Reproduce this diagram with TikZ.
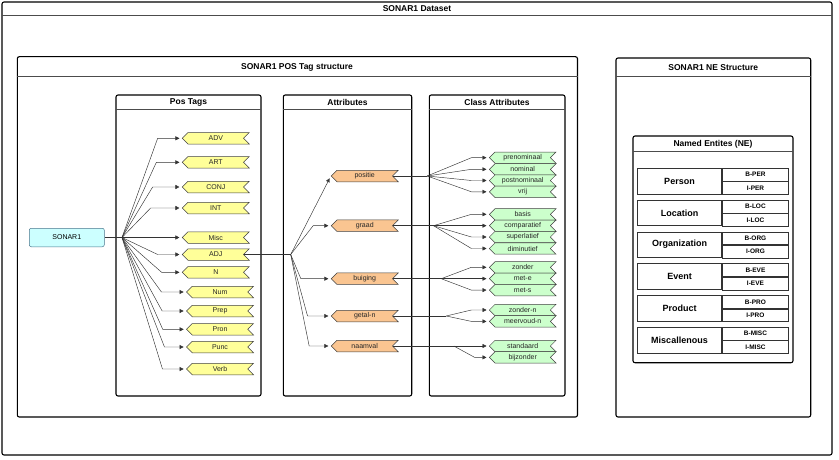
\documentclass[tikz,border=0pt]{standalone}
\usepackage{fontspec}
\setmainfont{Liberation Sans}
\definecolor{tagyellow}{RGB}{255,255,153}
\definecolor{attrorange}{RGB}{250,197,145}
\definecolor{classgreen}{RGB}{204,255,204}
\definecolor{rootcyan}{RGB}{204,255,255}
\usetikzlibrary{calc}
\usetikzlibrary{shapes.symbols,arrows.meta}
\tikzset{
  panel/.style={draw=black, line width=1.1pt, rounded corners=2pt},
  titlebar/.style={draw=black!70, line width=0.5pt},
  paneltitle/.style={font=\fontsize{8.5}{10}\selectfont\bfseries},
  tagshape/.style={signal, signal to=west, signal from=east, signal pointer angle=90,
    draw=black!75, line width=0.5pt, minimum width=67pt, minimum height=11.5pt,
    inner sep=0pt, font=\fontsize{7}{8}\selectfont, text=black!85},
  postag/.style={tagshape, fill=tagyellow},
  attrtag/.style={tagshape, fill=attrorange},
  classtag/.style={tagshape, fill=classgreen, minimum width=66.7pt, minimum height=11.4pt},
  link/.style={draw=black!80, line width=0.45pt},
  tagarrow/.style={link, -{Triangle[length=4pt,width=4pt]}, shorten >=2.5pt},
  necell/.style={draw=black!80, line width=0.6pt, inner sep=0pt},
}

\begin{document}
\begin{tikzpicture}[x=1pt,y=-1pt]
  \useasboundingbox (0,0) rectangle (839,460);

  % containers
  \draw[panel] (2,2) rectangle (832,455);
  \draw[titlebar] (2,15) -- (832,15);
  \node[paneltitle] (datasettitle) at (417,8.5) {SONAR1 Dataset};

  \draw[panel] (17.3,56.7) rectangle (577.5,417);
  \draw[titlebar] (17.3,76.7) -- (577.5,76.7);
  \node[paneltitle] (postitle) at (297,67) {SONAR1 POS Tag structure};

  \draw[panel] (616,58) rectangle (810.7,417);
  \draw[titlebar] (616,76.7) -- (810.7,76.7);
  \node[paneltitle] (netitle) at (713.3,67.5) {SONAR1 NE Structure};

  \draw[panel] (116,95) rectangle (261,396);
  \draw[titlebar] (116,109.3) -- (261,109.3);
  \node[paneltitle] (tagstitle) at (188.5,102) {Pos Tags};

  \draw[panel] (283.3,95) rectangle (411.7,396);
  \draw[titlebar] (283.3,109.3) -- (411.7,109.3);
  \node[paneltitle] (attrtitle) at (347.5,102) {Attributes};

  \draw[panel] (429.3,95) rectangle (565,396);
  \draw[titlebar] (429.3,109.3) -- (565,109.3);
  \node[paneltitle] (classtitle) at (497,102) {Class Attributes};

  \draw[panel] (633,136) rectangle (793,362.7);
  \draw[titlebar] (633,151.7) -- (793,151.7);
  \node[paneltitle] (entitytitle) at (713,144) {Named Entites (NE)};

  % pos tags
  \node[draw=black!50!cyan, fill=rootcyan, rounded corners=2pt, line width=0.5pt,
    minimum width=75pt, minimum height=18.5pt, font=\fontsize{7}{8}\selectfont] (sonar) at (66.8,237.5) {SONAR1};
  \coordinate (posfork) at (122,237.5);
  \draw[link] (sonar.east) -- (posfork);

  \foreach \nm/\lbl/\xx/\yy in {adv/ADV/215.8/138.3, art/ART/215.8/162.3, conj/CONJ/215.8/187,
      int/INT/215.8/208, misc/Misc/215.8/237.5, adj/ADJ/215.8/254.5, n/N/215.8/272.3,
      num/Num/220/292, prep/Prep/220/311, pron/Pron/220/329.3, punc/Punc/220/347, verb/Verb/220/369}
    \node[postag] (\nm) at (\xx,\yy) {\lbl};

  \draw[tagarrow] (posfork) -- (misc.west);
  \foreach \nm/\dx in {adv/24.3, art/25.6, conj/29.3, int/31.3, adj/24.3, n/20.3,
      num/24.7, prep/24, pron/23.4, punc/21.7, verb/23.7}
    \draw[tagarrow] (posfork) -- ([xshift=-\dx pt]\nm.west) -- (\nm.west);

  % attributes
  \foreach \nm/\lbl/\yy in {positie/positie/176, graad/graad/225.7, buiging/buiging/278.7,
      getaln/getal-n/316, naamval/naamval/346}
    \node[attrtag] (\nm) at (364.7,\yy) {\lbl};

  \coordinate (attrfork) at (290.7,254.5);
  \draw[link] (adj.east) -- (attrfork);
  \draw[tagarrow] (attrfork) -- (positie.west);
  \foreach \nm/\dx in {graad/17.7, buiging/30, getaln/23.3, naamval/21.7}
    \draw[tagarrow] (attrfork) -- ([xshift=-\dx pt]\nm.west) -- (\nm.west);

  % class attributes
  \foreach \nm/\lbl/\yy in {prenom/prenominaal/157.7, nomin/nominal/169.3, postnom/postnominaal/180.5,
      vrij/vrij/191.8, basis/basis/214.3, compar/comparatief/225.7, superl/superlatief/237,
      dimin/diminutief/248.5, zonder/zonder/267.3, mete/met-e/278.7, mets/met-s/290.1,
      zondern/zonder-n/310, meervn/meervoud-n/321.4, standaard/standaard/346, bijzonder/bijzonder/357.4}
    \node[classtag] (\nm) at (522.7,\yy) {\lbl};

  \foreach \nm/\dx in {positie/34.4, graad/40.7, buiging/48.4, getaln/53.4, naamval/61}
    \coordinate (\nm fork) at ([xshift=\dx pt]\nm.east);
  \foreach \nm in {positie, graad, buiging, getaln, naamval}
    \draw[link] (\nm.east) -- (\nm fork);

  \foreach \src/\dst in {positie/prenom, positie/nomin, positie/postnom, positie/vrij,
      graad/basis, graad/compar, graad/superl, graad/dimin,
      buiging/zonder, buiging/mete, buiging/mets, getaln/zondern, getaln/meervn}
    \draw[tagarrow] (\src fork) -- ([xshift=-17.6pt]\dst.west) -- (\dst.west);
  \draw[tagarrow] (naamvalfork) -- (standaard.west);
  \draw[tagarrow] (naamvalfork) -- ([xshift=-14.3pt]bijzonder.west) -- (bijzonder.west);

  % named entities
  \foreach \lbl/\tg [count=\i from 0] in {Person/PER, Location/LOC, Organization/ORG,
      Event/EVE, Product/PRO, Miscallenous/MISC} {
    \node[necell, minimum width=84.4pt, minimum height=25.5pt,
      font=\fontsize{9}{10}\selectfont\bfseries] (ne\tg) at (679.5,181.05+\i*31.8) {\lbl};
    \node[necell, minimum width=66.3pt, minimum height=12.75pt, anchor=north west,
      font=\fontsize{6.5}{7}\selectfont\bfseries] (b\tg) at (ne\tg.north east) {B-\tg};
    \node[necell, minimum width=66.3pt, minimum height=12.75pt, anchor=north west,
      font=\fontsize{6.5}{7}\selectfont\bfseries] (i\tg) at (b\tg.south west) {I-\tg};
  }
\end{tikzpicture}
\end{document}
